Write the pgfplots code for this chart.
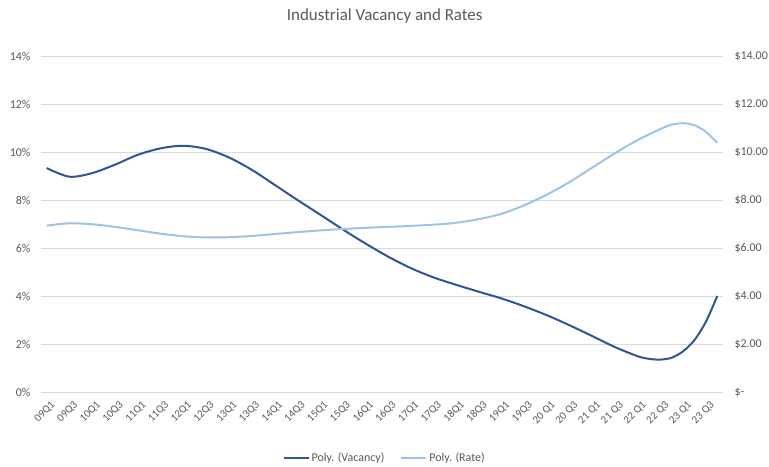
\documentclass[border=0pt]{standalone}
\usepackage{pgfplots}
\pgfplotsset{compat=1.18}
\usepackage{fontspec}
\setmainfont{Carlito}
\definecolor{vac}{HTML}{2F5597}
\definecolor{rate}{HTML}{9DC3E6}
\definecolor{txt}{HTML}{595959}
\definecolor{grd}{HTML}{D9D9D9}
\pgfplotsset{base/.style={
  at={(0,0)}, anchor=south west, scale only axis, width=682bp, height=336bp,
  xmin=-0.5, xmax=59.5, ymin=0, ymax=14,
  ytick={0,2,...,14},
  tick style={draw=none},
  axis line style={draw=none},
  ticklabel style={font=\fontsize{12}{14}\selectfont, text=txt},
}}
\begin{document}
\begin{tikzpicture}
\begin{axis}[base,
  xtick={0,2,...,58},
  xticklabels={09Q1,09Q3,10Q1,10Q3,11Q1,11Q3,12Q1,12Q3,13Q1,13Q3,14Q1,14Q3,15Q1,15Q3,16Q1,16Q3,17Q1,17Q3,18Q1,18Q3,19Q1,19Q3,20 Q1,20 Q3,21 Q1,21 Q3,22 Q1,22 Q3,23 Q1,23 Q3},
  xticklabel style={rotate=45, anchor=east, yshift=-13bp, xshift=0bp, font=\fontsize{11}{13}\selectfont},
  yticklabels={0\%,2\%,4\%,6\%,8\%,10\%,12\%,14\%},
  yticklabel style={anchor=east, xshift=-7bp},
  ymajorgrids, grid style={grd, line width=0.75bp},
  title={Industrial Vacancy and Rates},
  title style={at={(axis description cs:0.504,1.101)}, anchor=center, font=\fontsize{17}{19}\selectfont, text=txt},
]
\addplot[vac, line width=2bp, smooth] coordinates {
(0,9.33) (2,8.97) (4,9.12) (6,9.47) (8,9.88) (10,10.15) (12,10.26) (14,10.13) (16,9.78) (18,9.27) (20,8.65) (22,8.02) (24,7.41) (26,6.79) (28,6.2) (30,5.65) (32,5.17) (34,4.78) (36,4.47) (38,4.18) (40,3.9) (42,3.57) (44,3.2) (46,2.78) (48,2.33) (50,1.87) (52,1.49) (53,1.38) (54,1.35) (55,1.43) (56,1.7) (57,2.17) (58,2.93) (59,4.0)
};
\end{axis}
\begin{axis}[base,
  axis y line*=right,
  xtick=\empty,
  yticklabels={\$-,\$2.00,\$4.00,\$6.00,\$8.00,\$10.00,\$12.00,\$14.00},
  yticklabel style={anchor=west, xshift=8bp},
  legend columns=2,
  legend style={at={(axis description cs:0.504,-0.196)}, anchor=center, draw=none, fill=none, font=\fontsize{12}{14}\selectfont, text=txt,
    /tikz/every even column/.append style={column sep=14bp}},
  legend image code/.code={\draw[#1] (0bp,0bp) -- (25bp,0bp);},
]
\addlegendimage{vac, line width=2bp}
\addlegendentry{Poly. (Vacancy)}
\addplot[rate, line width=2bp, smooth] coordinates {
(0,6.93) (2,7.03) (4,6.99) (6,6.88) (8,6.74) (10,6.6) (12,6.49) (14,6.44) (16,6.45) (18,6.5) (20,6.58) (22,6.66) (24,6.73) (26,6.79) (28,6.84) (30,6.88) (32,6.92) (34,6.97) (36,7.05) (38,7.2) (40,7.42) (42,7.78) (44,8.22) (46,8.75) (48,9.35) (50,9.95) (52,10.5) (54,10.96) (55,11.14) (56,11.2) (57,11.11) (58,10.84) (59,10.38)
};
\addlegendentry{Poly. (Rate)}
\end{axis}
\pgfresetboundingbox
\path (-41bp,-75bp) rectangle (728bp,392bp);
\end{tikzpicture}
\end{document}
